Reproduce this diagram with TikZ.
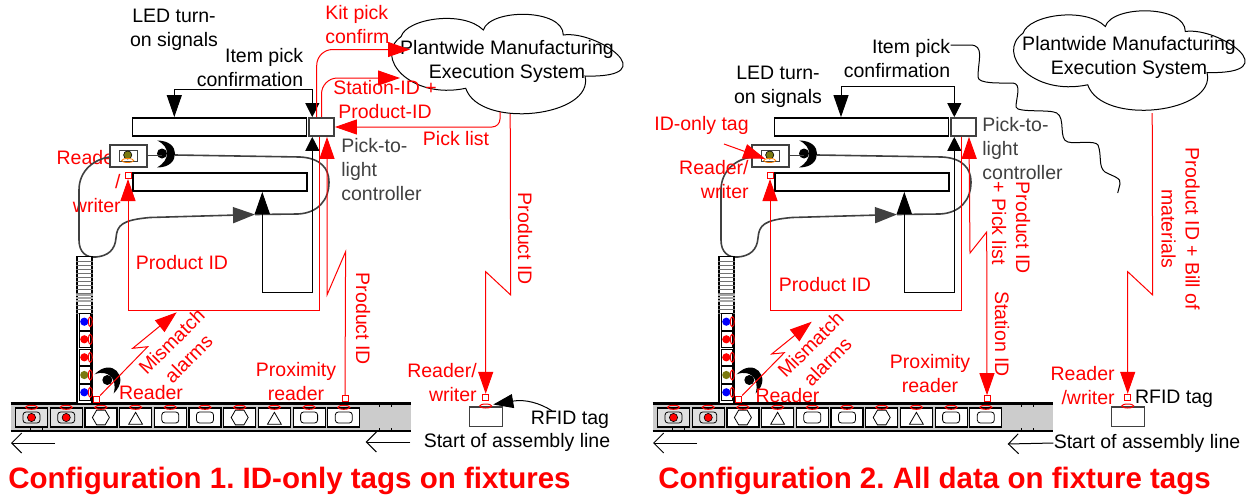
\documentclass[tikz,border=0pt]{standalone}
\usepackage{fontspec}
\setmainfont{Liberation Sans}
\usepackage{xcolor}
\usetikzlibrary{arrows.meta,shapes.geometric}
\definecolor{darkline}{HTML}{404040}
\definecolor{lampolive}{HTML}{7A7A10}
\begin{document}
\frenchspacing
\begin{tikzpicture}[
  x=0.5pt,y=-0.5pt,
  font=\fontsize{9.75}{12}\selectfont,
  lbl/.style={inner sep=0pt,align=center},
  redlbl/.style={lbl,text=red},
  ledbar/.style={rectangle,draw,fill=white,line width=.9pt,minimum width=87pt,minimum height=9pt,inner sep=0pt},
  ctrlbox/.style={rectangle,draw=darkline,fill=white,line width=.9pt,minimum width=12.5pt,minimum height=9pt,inner sep=0pt},
  headbox/.style={rectangle,draw=darkline,fill=white,line width=.6pt,minimum width=18.5pt,minimum height=11pt,inner sep=0pt},
  eyebox/.style={rectangle,draw=darkline,fill=white,line width=.5pt,minimum width=9pt,minimum height=5.5pt,inner sep=0pt},
  sensor/.style={rectangle,draw=red,fill=white,line width=.5pt,minimum size=3pt,inner sep=0pt},
  tagmark/.style={ellipse,draw=red,line width=.5pt,minimum width=6pt,minimum height=2pt,inner sep=0pt},
  tagside/.style={ellipse,draw=red,line width=.5pt,minimum width=2pt,minimum height=5pt,inner sep=0pt},
  belt/.style={rectangle,fill=black!20,minimum width=200pt,minimum height=13.4pt,inner sep=0pt},
  cell/.style={rectangle,draw,fill=white,line width=.6pt,minimum width=16pt,minimum height=9.5pt,inner sep=0pt},
  fixcell/.style={cell,fill=black!12},
  fixture/.style={rectangle,draw=darkline,fill=white,line width=.6pt,minimum width=16.5pt,minimum height=9.6pt,inner sep=0pt},
  hexmark/.style={regular polygon,regular polygon sides=6,draw,line width=.4pt,minimum size=8.5pt,inner sep=0pt},
  trimark/.style={regular polygon,regular polygon sides=3,draw,line width=.4pt,minimum size=8pt,inner sep=0pt,yshift=-1.4pt},
  barmark/.style={rectangle,rounded corners=1.5pt,draw,line width=.4pt,minimum width=8.5pt,minimum height=5.5pt,inner sep=0pt},
  lamp/.style={circle,fill=#1,inner sep=0pt,minimum size=4.1pt},
  lampbox/.style={rectangle,draw,fill=white,line width=.4pt,minimum width=5.5pt,minimum height=8.4pt,inner sep=0pt},
  tower/.style={rectangle,draw,fill=white,line width=.9pt,minimum width=7.5pt,minimum height=73.5pt,inner sep=0pt},
  wire/.style={line width=.5pt},
  redwire/.style={red,line width=.5pt},
  cable/.style={draw=darkline,line width=.8pt},
  blkbig/.style={wire,-{Triangle[length=11pt,width=7.5pt]}},
  redbig/.style={redwire,-{Triangle[length=11pt,width=7.5pt]}},
  opentip/.style={wire,-{Straight Barb[length=5pt,width=10pt]}},
  title/.style={inner sep=0pt,anchor=base west,text=red,font=\fontsize{14.75}{16}\selectfont\bfseries},
  crescent/.pic={
    \fill (-5,-13) .. controls (8,-13) and (13,-6) .. (13,0) .. controls (13,7) and (8,14) .. (-5,14)
      .. controls (2,10) and (5,5) .. (5,0) .. controls (5,-5) and (2,-10) .. (-5,-13) -- cycle;
    \fill (0,0) circle (2.5pt);
  },
  mescloud/.pic={
    \draw[wire] (401,36.7) .. controls (406.7,18.3) and (463.3,10) .. (483.3,30)
      .. controls (490,8.3) and (563.3,8.3) .. (563.3,35)
      .. controls (596.7,30) and (666.7,78.3) .. (585,76)
      .. controls (595,116.7) and (480,130) .. (465.7,88.3)
      .. controls (410,100) and (373.3,56.7) .. (401,36.7) -- cycle;
    \node[lbl] (text) at (507,61) {Plantwide Manufacturing\\Execution System};
  }
]
\useasboundingbox (0,0) rectangle (1252,498);

\node[redlbl,align=right,anchor=east] (a-rwlabel) at (121,182) {Reader\\/\\writer};

\foreach \p/\dx in {a/0,b/642}{
\begin{scope}[shift={(\dx,0)}]
  \node[ledbar] (\p-led) at (219.5,127) {};
  \node[ledbar] (\p-lower) at (220,182) {};
  \node[ctrlbox] (\p-ctrl) at (321.5,127) {};
  \node[headbox] (\p-head) at (128.5,156) {};
  \node[eyebox] (\p-eye) at (128,155.5) {};
  \node[lamp=lampolive,draw=black,line width=.3pt] (\p-eyelamp) at (127.7,155) {};
  \node[ellipse,draw=orange,line width=.4pt,minimum width=6pt,minimum height=2pt,inner sep=0pt] (\p-eyetag) at (127.7,160.5) {};
  \node[sensor] (\p-rw) at (128,175.5) {};
  \pic at (162,153.5) {crescent};
  \coordinate (\p-blob) at (162,155);
  \draw[wire,draw=darkline] (\p-head.east |- \p-blob) -- (\p-blob);

  \coordinate (\p-join) at (255,214.5);
  \draw[cable,-{Triangle[length=11pt,width=8pt]},darkline] (\p-head.west |- 0,157) .. controls (95,159) and (79,170) .. (79,190) -- (79,240)
    .. controls (79,252) and (86,258) .. (96,257) .. controls (108,256) and (115,250) .. (116,238)
    .. controls (117,225) and (122,220) .. (150,217.5) -- (\p-join);
  \draw[cable] (175,155) -- (300,157) .. controls (320,158) and (329,168) .. (329,182)
    .. controls (329,200) and (318,213) .. (298,214) -- (\p-join);

  \coordinate (\p-loop) at (262.3,292);
  \draw[wire,{Triangle[length=7pt,width=7pt]}-{Triangle[length=11pt,width=7.5pt]}] ([xshift=-4.6pt]\p-ctrl.south) |- (\p-loop) -- (\p-lower.south -| \p-loop);

  \coordinate (\p-corner) at (128,310.5);
  \draw[redbig] ([xshift=-1pt]\p-ctrl.south) |- (\p-corner) -- (\p-rw.south);

  \node[belt] (\p-belt) at (211,417.3) {};
  \draw[line width=1.3pt] (\p-belt.north west) -- (\p-belt.north east);
  \draw[line width=1.3pt] (\p-belt.south west) -- (\p-belt.south east);
  \foreach \tx in {379,391}{
    \draw[wire] (\tx,404) -- (\tx,407);
    \draw[wire] (\tx,428) -- (\tx,431);
  }
  \foreach \tx in {30.7,42}{
    \draw[wire] (\tx,428) -- (\tx,431);
  }
  \foreach \i/\kind/\cellkind in {0/barmark/fixcell,1/barmark/fixcell,2/hexmark/cell,3/trimark/cell,4/barmark/cell,5/barmark/cell,6/hexmark/cell,7/trimark/cell,8/barmark/cell,9/barmark/cell}{
    \node[\cellkind] (\p-cell\i) at ({31.5+34.7*\i},417.5) {};
    \node[\kind] (\p-mark\i) at (\p-cell\i) {};
    \node[tagmark] (\p-tag\i) at ({31.5+34.7*\i},407.3) {};
  }
  \foreach \i in {0,1}{
    \node[lamp=red,draw=black,line width=.3pt] (\p-dot\i) at (\p-mark\i) {};
  }

  \node[tower] (\p-tower) at (84.3,330) {};
  \foreach \y in {261,265,...,313}{
    \draw[black!55,line width=.4pt] (\p-tower.west |- 0,\y) -- (\p-tower.east |- 0,\y);
  }
  \foreach \y in {295,298,301}{
    \draw[black!35,line width=.7pt] (\p-tower.west |- 0,\y) -- (\p-tower.east |- 0,\y);
  }
  \foreach \i/\y/\col in {1/321.7/blue,2/339.3/red,3/357.3/red,4/375/lampolive,5/392.3/blue}{
    \node[lampbox] (\p-lbox\i) at (84.5,\y) {};
    \node[lamp=\col] (\p-lamp\i) at (84.3,\y) {};
    \node[tagside] (\p-side\i) at (90.3,\y) {};
  }
  \pic[rotate=45] at (107.3,380) {crescent};

  \node[sensor] (\p-mis) at (96.7,399) {};
  \node[sensor] (\p-prox) at (345,398.7) {};
  \node[fixture] (\p-tagged) at (485.7,416.5) {};
  \node[tagmark] (\p-tagtop) at (485.7,406) {};
  \node[sensor] (\p-rw2) at (485.7,397.3) {};
  \coordinate (\p-cbot) at (510.2,113);
  \draw[redbig] (\p-cbot) -- (510.7,295) -- (485.7,271.7) -- (\p-rw2.north);

  \coordinate (\p-dirend) at (55,443);
  \draw[opentip] (\p-dirend) -- (11,443);
\end{scope}
}

\pic (a-mes) at (0,0) {mescloud};
\pic (b-mes) at (622,-3.5) {mescloud};

\node[lbl] (a-ledtxt) at (174,30) {LED turn-\\on signals};
\node[lbl,align=right] (a-pick) at (250,68) {Item pick\\confirmation};
\coordinate (a-top) at (174.3,89.3);
\draw[blkbig] (a-top) -- (a-led.north -| a-top);
\draw[wire,-{Triangle[length=7pt,width=7pt]}] (a-top) -| ([xshift=-4.6pt]a-ctrl.north);

\node[redlbl,align=left,anchor=west] (a-kittxt) at (325,25) {Kit pick\\confirm};
\node[redlbl] (a-station) at (385,100) {Station-ID +\\Product-ID};
\node[redlbl] (a-picktxt) at (456,139) {Pick list};
\node[lbl,align=left,anchor=west,text=darkline] (a-ctrltxt) at (341,170) {Pick-to-\\light\\controller};
\coordinate (a-kitend) at (410,49.5);
\coordinate (a-stend) at (400,78);
\coordinate (a-plist) at (500,112);
\draw[redbig,rounded corners=8pt] ([xshift=-2.4pt]a-ctrl.north) |- (a-kitend);
\draw[redbig,rounded corners=8pt] (a-ctrl.north) |- (a-stend);
\draw[redbig,rounded corners=4pt] (a-plist) |- (a-ctrl.east);
\draw[redwire,-{Triangle[length=11pt,width=7.5pt]}] (a-prox.north) -- (345.6,251.7) -- (327,295) -- ([xshift=2.75pt]a-ctrl.south);

\node[redlbl] (a-pid) at (182,263) {Product ID};
\node[redlbl,rotate=45] (a-mistxt) at (180,350) {Mismatch\\alarms};
\node[redlbl] (a-readtxt) at (151,393) {Reader};
\node[redlbl] (a-proxtxt) at (296,382) {Proximity\\reader};
\node[redlbl,rotate=-90] (a-pid2) at (363,319) {Product ID};
\node[redlbl,rotate=-90] (a-pid3) at (525,239) {Product ID};
\node[redlbl,align=right] (a-rw2txt) at (442,383) {Reader/\\writer};
\node[lbl] (a-rfid) at (570,420) {RFID tag};
\node[lbl] (a-start) at (517,442) {Start of assembly line};
\draw[redbig] (a-mis) -- (147.7,346.7) -- (132.7,348.3) -- (176.7,312.3);
\draw[wire,-{Triangle[length=10pt,width=7pt]}] ([xshift=-9pt]a-rfid.north) .. controls (540,403) and (525,399) .. (493.3,404.5);
\draw[opentip] ([xshift=-6.5pt]a-start.west) -- (365.7,442);
\node[title] (a-title) at (8,488.5) {Configuration 1. ID-only tags on fixtures};

\node[lbl] (b-ledtxt) at (778,87) {LED turn-\\on signals};
\node[lbl,align=right] (b-pick) at (897,59) {Item pick\\confirmation};
\coordinate (b-top) at (841,86);
\draw[blkbig] (b-top) -- (b-led.north -| b-top);
\draw[wire,-{Triangle[length=7pt,width=7pt]}] (b-top) -| ([xshift=-4.6pt]b-ctrl.north);
\node[lbl,align=left,anchor=west,text=darkline] (b-ctrltxt) at (982,148.5) {Pick-to-\\light\\controller};
\draw[wire] (b-pick.north east |- 0,45) -- (970,45) .. controls (985,45) and (978,60) .. (978,77)
  .. controls (978,84) and (1000,83) .. (1013,83) .. controls (1022,84) and (1016,98) .. (1016,107)
  .. controls (1017,113) and (1050,109) .. (1056.7,113) .. controls (1066,118) and (1058,140) .. (1068,142)
  .. controls (1075,144) and (1095,140) .. (1098,145) .. controls (1102,155) and (1098,167) .. (1105,172)
  .. controls (1112,176) and (1122,178) .. (1120,184) -- (1117.7,193);

\node[redlbl] (b-idonly) at (701.5,125) {ID-only tag};
\coordinate (b-idstart) at (724,144);
\draw[redwire,-{Triangle[length=11pt,width=7.5pt]}] (b-idstart) -- (b-eyetag.north west);
\node[redlbl,align=right,anchor=east] (b-rwlabel) at (749,180) {Reader/\\writer};
\node[redlbl] (b-pid) at (825,285) {Product ID};
\node[redlbl,rotate=45] (b-mistxt) at (819,353) {Mismatch\\alarms};
\node[redlbl] (b-readtxt) at (787.5,395.7) {Reader};
\node[redlbl] (b-proxtxt) at (930,374) {Proximity\\reader};
\draw[redwire,{Triangle[length=11pt,width=7.5pt]}-{Triangle[length=11pt,width=7.5pt]}] ([xshift=2.75pt]b-ctrl.south) -- (970,253) -- (986.7,232) -- (b-prox.north);
\node[redlbl,rotate=-90,align=left] (b-plist) at (1011,228) {Product ID\\+ Pick list};
\node[redlbl,rotate=-90] (b-stn) at (1002,334) {Station ID};
\node[redlbl,rotate=-90] (b-bom) at (1180.5,229) {Product ID + Bill of\\materials};
\node[redlbl,align=right,anchor=east] (b-rw2txt) at (1115,385.5) {Reader\\/writer};
\node[lbl] (b-rfid) at (1174,399) {RFID tag};
\node[lbl] (b-start) at (1147,443) {Start of assembly line};
\draw[redbig] (b-mis) -- (784.3,352.7) -- (771.7,354) -- (811.7,321.7);
\draw[opentip] (b-start.west) -- (1007.7,444);
\node[title] (b-title) at (658,488.5) {Configuration 2. All data on fixture tags};
\end{tikzpicture}
\end{document}
